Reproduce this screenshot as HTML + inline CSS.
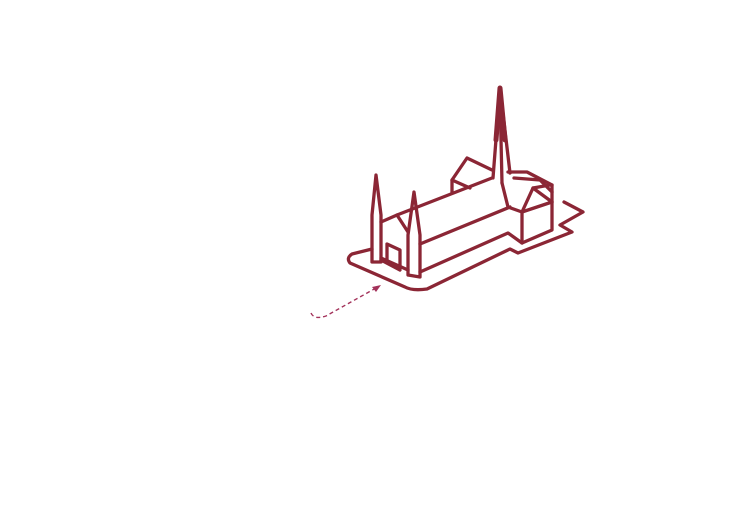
<!DOCTYPE html>
<html><head><style>html,body{margin:0;padding:0;background:#fff;}svg{display:block}</style></head>
<body>
<svg width="752" height="506" viewBox="0 0 752 506" xmlns="http://www.w3.org/2000/svg">
<g fill="none" stroke="#8B2635" stroke-width="3.3" stroke-linejoin="round" stroke-linecap="round">
<path d="M372,249 L352,254 Q346,258 350,263 L405,287 Q412,291 427,289 L510,249 L518,253 L572,232 L560,225 L583,212 L564,202"/>
<path d="M372,262 L372,215 L376,175 L381,215 L381,262 Z"/>
<path d="M408,275 L408,235 L414,192 L420,235 L420,277 Z"/>
<path d="M381,222 L397,215 L492,178"/>
<path d="M397,215 L408,232"/>
<path d="M420,244 L510,207"/>
<path d="M420,272 L508,233 L522,243"/>
<path d="M381,258 L408,270"/>
<path d="M381,260 L400,270"/>
<path d="M387,262 L387,244 L400,250 L400,268"/>
<path d="M452,193 L452,180 L467,158 L492,170"/>
<path d="M452,180 L470,188"/>
<path d="M493,178 L500,88 L510,173 M500,95 L502,183"/>
<path d="M500,88 L496,140 M500,88 L505,140" stroke-width="5"/>
<path d="M502,183 L508,207 L522,212 L533,188 L550,185 M508,172 L527,172 L552,185"/>
<path d="M514,178 L540,180 L552,192 M533,188 L552,202"/>
<path d="M522,212 L522,243 L552,230 L552,185"/>
<path d="M522,212 L552,202"/>
</g>
<g fill="none" stroke="#A3325A" stroke-width="1.4" stroke-dasharray="4,3">
<path d="M311,313 Q314,320 326,316 L376,288"/>
</g>
<path d="M381,285 L372,287 L376,292 Z" fill="#A3325A"/>
</svg>
</body></html>
